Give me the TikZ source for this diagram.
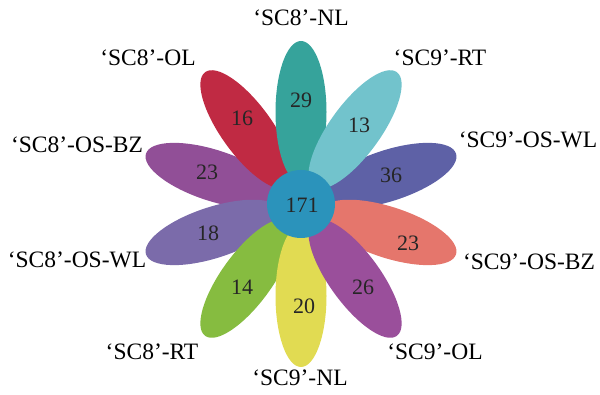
\documentclass[tikz,border=0pt]{standalone}
\usepackage{fontspec}
\setmainfont{Liberation Serif}
\usetikzlibrary{shapes.geometric,calc}
\definecolor{cNLa}{HTML}{36A39B}
\definecolor{cRTb}{HTML}{72C3CC}
\definecolor{cWLb}{HTML}{5E61A6}
\definecolor{cBZb}{HTML}{E5766C}
\definecolor{cOLb}{HTML}{9A4F9B}
\definecolor{cNLb}{HTML}{E1DB52}
\definecolor{cRTa}{HTML}{86BC40}
\definecolor{cWLa}{HTML}{7B6BAA}
\definecolor{cBZa}{HTML}{914F97}
\definecolor{cOLa}{HTML}{C02A43}
\definecolor{cCen}{HTML}{2B93BB}
\begin{document}
\begin{tikzpicture}[x=1pt,y=1pt,
 petal/.style={ellipse, inner sep=0pt, minimum width=142pt, minimum height=51pt, draw=none},
 num/.style={font=\fontsize{22}{22}\selectfont, text=black!85},
 lab/.style={font=\fontsize{23.5}{23.5}\selectfont, text=black}]
\useasboundingbox (0,0) rectangle (600,395);
\coordinate (c) at (301,191);
% petals (draw order for overlaps)
\node[petal, fill=cBZa, rotate=162]  (pBZa) at ($(c)+(162:92)$) {};
\node[petal, fill=cOLa, rotate=126]  (pOLa) at ($(c)+(126:92)$) {};
\node[petal, fill=cWLa, rotate=198]  (pWLa) at ($(c)+(198:92)$) {};
\node[petal, fill=cNLa, rotate=90]   (pNLa) at ($(c)+(90:92)$) {};
\node[petal, fill=cRTa, rotate=234]  (pRTa) at ($(c)+(234:92)$) {};
\node[petal, fill=cWLb, rotate=18]   (pWLb) at ($(c)+(18:92)$) {};
\node[petal, fill=cRTb, rotate=54]   (pRTb) at ($(c)+(54:92)$) {};
\node[petal, fill=cNLb, rotate=270]  (pNLb) at ($(c)+(270:92)$) {};
\node[petal, fill=cBZb, rotate=-18]  (pBZb) at ($(c)+(-18:92)$) {};
\node[petal, fill=cOLb, rotate=-54]  (pOLb) at ($(c)+(-54:92)$) {};
\node[circle, fill=cCen, minimum size=68pt, inner sep=0pt] (cen) at (c) {};
% numbers
\node[num] (n171) at (302,190) {171};
\node[num] (n29) at (301,295) {29};
\node[num] (n13) at (359,270) {13};
\node[num] (n36) at (391,220) {36};
\node[num] (n23r) at (408,152) {23};
\node[num] (n26) at (363,108) {26};
\node[num] (n20) at (304,89) {20};
\node[num] (n14) at (242,108) {14};
\node[num] (n18) at (208,162) {18};
\node[num] (n23l) at (207,223) {23};
\node[num] (n16) at (242,277) {16};
% labels
\node[lab] (lNLa) at (301,377) {‘SC8’-NL};
\node[lab] (lRTb) at (440,337) {‘SC9’-RT};
\node[lab] (lWLb) at (528,255) {‘SC9’-OS-WL};
\node[lab] (lBZb) at (529,133) {‘SC9’-OS-BZ};
\node[lab] (lOLb) at (435,43) {‘SC9’-OL};
\node[lab] (lNLb) at (300,17) {‘SC9’-NL};
\node[lab] (lRTa) at (152,43) {‘SC8’-RT};
\node[lab] (lWLa) at (77,135) {‘SC8’-OS-WL};
\node[lab] (lBZa) at (77,250) {‘SC8’-OS-BZ};
\node[lab] (lOLa) at (148,337) {‘SC8’-OL};
\end{tikzpicture}
\end{document}
